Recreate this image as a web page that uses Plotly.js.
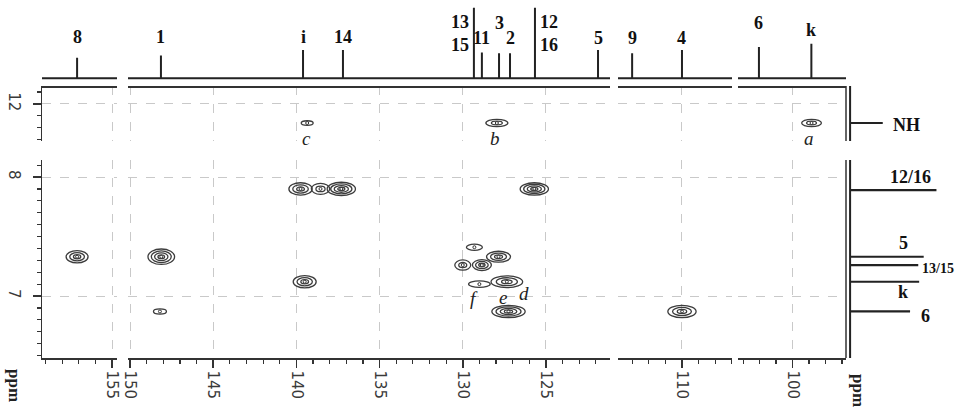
<!DOCTYPE html>
<html><head><meta charset="utf-8">
<script src="https://cdn.plot.ly/plotly-3.0.1.min.js"></script>
<style>html,body{margin:0;padding:0;background:#fff}#chart{width:961px;height:407px}</style>
</head><body><div id="chart"></div>
<script>
// ---- 1D 13C projection (top) ----
const topLabels = ['8','1','i','14','13/15','11','3','2','12/16','5','9','4','6','k'];
const topShift  = [157.10,148.14,139.60,137.20,129.33,128.85,127.82,127.16,125.66,121.87,113.00,110.00,102.04,98.86];
const topHeight = [0.26,0.29,0.36,0.36,0.90,0.33,0.32,0.32,0.90,0.36,0.32,0.36,0.40,0.44];

// ---- 1D 1H projection (right) ----
const rightLabels = ['NH','12/16','5','13/15','k','6'];
const rightShift  = [11.84,7.89,7.33,7.26,7.12,6.87];
const rightHeight = [0.36,0.95,0.81,0.75,0.76,0.66];

// ---- HMBC cross peaks (13C ppm, 1H ppm, half widths, contour levels) ----
const cpC      = [157.10,148.12,148.20,139.50,139.75,138.55,137.30,125.70,139.35,127.95,98.85,110.00,129.30,130.00,128.85,127.85,129.00,127.35,127.25];
const cpH      = [7.33,7.33,6.87,7.12,7.90,7.90,7.90,7.90,11.84,11.84,11.84,6.87,7.41,7.26,7.26,7.33,7.10,7.12,6.87];
const cpHalfC  = [0.66,0.80,0.39,0.69,0.70,0.55,0.85,0.85,0.36,0.66,0.60,0.85,0.48,0.48,0.57,0.72,0.65,0.95,1.00];
const cpHalfH  = [0.052,0.065,0.022,0.052,0.052,0.046,0.056,0.052,0.019,0.031,0.031,0.052,0.026,0.043,0.046,0.046,0.028,0.050,0.052];
const cpLevels = [3,4,1,3,3,2,4,4,1,2,2,3,1,2,3,3,1,3,4];

// ---- cross-peak letters ----
const cpLabelText = ['a','b','c','d','e','f'];
const cpLabelC    = [98.98,128.07,139.40,126.32,127.60,129.33];
const cpLabelH    = [11.706,11.712,11.706,7.020,6.990,6.980];

// ---- axis segments (broken axes) ----
const xSegRanges = [[159.21,154.70],[150.12,121.15],[113.85,106.99],[103.31,96.76]];
const ySegRanges = [[6.479,8.143],[11.689,12.151]];

// ---------------- layout helpers ----------------
const W = 961, H = 407;
const px = v => v / W;
const py = v => 1 - v / H;
const xDomPx = [[42,117],[128,610],[618,732],[738,846]];
const yDomPx = [[160,358],[86,141]];
const ink = '#333';
const tickFont = {family:'DejaVu Sans', size:15, color:'#3a3a3a'};
const serifBold = {family:'Liberation Serif', size:18, color:'#111', weight:'bold'};

const layout = {
  width: W, height: H, margin:{l:0,r:0,t:0,b:0},
  paper_bgcolor:'#fff', plot_bgcolor:'rgba(0,0,0,0)', showlegend:false,
  shapes:[], annotations:[]
};

const xIds = ['x','x2','x3','x4'];
const yIds = ['y','y2'];
for (let i = 0; i < 4; i++) {
  const dom = [px(xDomPx[i][0]), px(xDomPx[i][1])];
  layout['xaxis' + (i === 0 ? '' : i + 1)] = {
    domain: dom, range: xSegRanges[i], anchor:'y',
    showline:true, linecolor:ink, linewidth:1.5, zeroline:false,
    ticks:'outside', ticklen:8, tickwidth:1.5, tickcolor:ink,
    tick0:0, dtick:5, tickangle:90, tickfont:tickFont,
    showgrid:true, gridcolor:'#c9c9c9', griddash:'dash', gridwidth:1,
    minor:{dtick:1, ticklen:4, tickwidth:1.2, tickcolor:ink, showgrid:false},
    fixedrange:true
  };
  layout['xaxis' + (i + 5)] = {
    domain: dom, range: xSegRanges[i], anchor:'y3',
    showline:true, linecolor:ink, linewidth:1.5, zeroline:false,
    ticks:'', showticklabels:false, showgrid:false, fixedrange:true
  };
}
for (let j = 0; j < 2; j++) {
  layout['yaxis' + (j === 0 ? '' : j + 1)] = {
    domain:[py(yDomPx[j][1]), py(yDomPx[j][0])], range: ySegRanges[j], anchor:'x',
    showline:true, linecolor:ink, linewidth:1.5, zeroline:false,
    ticks:'outside', ticklen:8, tickwidth:1.5, tickcolor:ink,
    tick0:0, dtick:1, tickangle:90, tickfont:tickFont, ticklabelstandoff:6,
    showgrid:true, gridcolor:'#c9c9c9', griddash:'dash', gridwidth:1,
    minor:{dtick:0.1, ticklen:4, tickwidth:1.2, tickcolor:ink, showgrid:false},
    fixedrange:true
  };
  layout['yaxis' + (j + 4)] = {
    domain:[py(yDomPx[j][1]), py(yDomPx[j][0])], range: ySegRanges[j], anchor:'x9',
    showline:true, linecolor:ink, linewidth:1.5, zeroline:false,
    ticks:'', showticklabels:false, showgrid:false, fixedrange:true
  };
}
layout.yaxis3 = {domain:[py(86), 1], range:[-0.1, 1.0], anchor:'x5', visible:false, fixedrange:true};
layout.xaxis9 = {domain:[px(850), px(941)], range:[0, 1], anchor:'y4', visible:false, fixedrange:true};

// right border of the 2D map (inner line of the double frame)
yDomPx.forEach(d => layout.shapes.push({type:'line', xref:'paper', yref:'paper',
  x0:px(846), x1:px(846), y0:py(d[0]), y1:py(d[1]), line:{color:ink, width:1.5}}));

const inRange = (v, r) => v <= Math.max(r[0], r[1]) && v >= Math.min(r[0], r[1]);
const xSegOf = c => xSegRanges.findIndex(r => inRange(c, r));
const ySegOf = h => ySegRanges.findIndex(r => inRange(h, r));

const traces = [];

// top 1D spectrum, one trace per x segment
for (let s = 0; s < 4; s++) {
  const r = xSegRanges[s];
  const idx = topShift.map((v, i) => i).filter(i => inRange(topShift[i], r))
                      .sort((a, b) => topShift[b] - topShift[a]);
  const x = [r[0]], y = [0];
  idx.forEach(i => { x.push(topShift[i], topShift[i], topShift[i]); y.push(0, topHeight[i], 0); });
  x.push(r[1]); y.push(0);
  traces.push({type:'scatter', mode:'lines', x, y, xaxis:'x' + (s + 5), yaxis:'y3',
    line:{color:'#222', width:2}, hoverinfo:'skip'});
}

// right 1D spectrum, one trace per y segment
for (let s = 0; s < 2; s++) {
  const r = ySegRanges[s];
  const idx = rightShift.map((v, i) => i).filter(i => inRange(rightShift[i], r))
                        .sort((a, b) => rightShift[a] - rightShift[b]);
  const x = [0], y = [r[0]];
  idx.forEach(i => { x.push(0, rightHeight[i], 0); y.push(rightShift[i], rightShift[i], rightShift[i]); });
  x.push(0); y.push(r[1]);
  traces.push({type:'scatter', mode:'lines', x, y, xaxis:'x9', yaxis:'y' + (s + 4),
    line:{color:'#222', width:2.2}, hoverinfo:'skip'});
}

// cross peaks: concentric contour rings + centre marks, grouped by subplot
for (let sx = 0; sx < 4; sx++) {
  for (let sy = 0; sy < 2; sy++) {
    const idx = cpC.map((v, i) => i).filter(i => xSegOf(cpC[i]) === sx && ySegOf(cpH[i]) === sy);
    const tr = {type:'scatter', mode:'markers', xaxis:xIds[sx], yaxis:yIds[sy], hoverinfo:'skip',
      x: idx.map(i => cpC[i]), y: idx.map(i => cpH[i]),
      marker:{symbol:'circle-open', size:3, color:'#333', line:{width:1}}};
    if (!idx.length) {
      const r = xSegRanges[sx], q = ySegRanges[sy];
      tr.x = [(r[0] + r[1]) / 2]; tr.y = [(q[0] + q[1]) / 2]; tr.marker.opacity = 0;
    }
    traces.push(tr);
    idx.forEach(i => {
      const n = cpLevels[i];
      for (let l = 0; l < n; l++) {
        const s = (n - l) / n;
        layout.shapes.push({type:'circle', xref:xIds[sx], yref:yIds[sy],
          x0: cpC[i] - cpHalfC[i] * s, x1: cpC[i] + cpHalfC[i] * s,
          y0: cpH[i] - cpHalfH[i] * s, y1: cpH[i] + cpHalfH[i] * s,
          line:{color:'#3c3c3c', width:1.3}});
      }
    });
  }
}

// top projection labels
const topLabelStyle = [
  {row:37},{row:37},{row:37},{row:37},
  {row:33, anchor:'right', dx:-3},
  {row:38},{row:23},{row:38},
  {row:33, anchor:'left', dx:3},
  {row:38},{row:38},{row:38},{row:23},{row:30}
];
topLabels.forEach((t, i) => {
  const st = topLabelStyle[i];
  layout.annotations.push({text: t.replace('/', '<br>'), xref:'x' + (xSegOf(topShift[i]) + 5),
    x: topShift[i], xshift: st.dx || 0, xanchor: st.anchor || 'center',
    yref:'paper', y: py(st.row), yanchor:'middle', showarrow:false,
    font: serifBold, align: st.anchor || 'center'});
});

// right projection labels
const rightLabelPos = [[906,125,18],[910,177,18],[903,243,18],[938,268,14],[903,292,18],[925,316,18]];
rightLabels.forEach((t, i) => {
  const p = rightLabelPos[i];
  layout.annotations.push({text:t, xref:'paper', yref:'paper', x:px(p[0]), y:py(p[1]),
    xanchor:'center', yanchor:'middle', showarrow:false,
    font:Object.assign({}, serifBold, {size:p[2]})});
});

// cross-peak letters
cpLabelText.forEach((t, i) => {
  layout.annotations.push({text:'<i>' + t + '</i>', xref:xIds[xSegOf(cpLabelC[i])], yref:yIds[ySegOf(cpLabelH[i])],
    x:cpLabelC[i], y:cpLabelH[i], showarrow:false, xanchor:'center', yanchor:'middle',
    font:{family:'Liberation Serif', size:19, color:'#222'}});
});

// axis unit labels
[[15,385],[859,390]].forEach(p => layout.annotations.push({text:'ppm', xref:'paper', yref:'paper',
  x:px(p[0]), y:py(p[1]), textangle:90, showarrow:false, xanchor:'center', yanchor:'middle',
  font:{family:'Liberation Serif', size:17, color:'#222', weight:'bold'}}));

Plotly.newPlot('chart', traces, layout, {staticPlot:true, displayModeBar:false});
</script>
</body></html>
